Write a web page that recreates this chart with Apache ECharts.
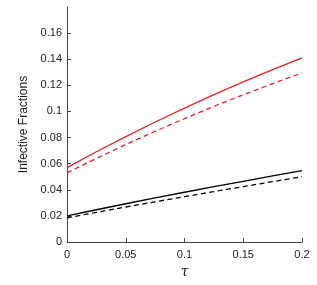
<!DOCTYPE html>
<html><head><meta charset="utf-8">
<script src="https://cdn.jsdelivr.net/npm/echarts@6/dist/echarts.min.js"></script>
<style>html,body{margin:0;padding:0;background:#fff}#c{width:317px;height:285px}</style>
</head><body><div id="c"></div>
<script>
const tau = [0, 0.025, 0.05, 0.075, 0.1, 0.125, 0.15, 0.175, 0.2];
const redSolid = [0.057, 0.0691, 0.0807, 0.0919, 0.1026, 0.1129, 0.1227, 0.132, 0.141];
const redDashed = [0.053, 0.064, 0.0746, 0.0848, 0.0945, 0.1039, 0.1128, 0.1213, 0.1295];
const blackSolid = [0.02, 0.0247, 0.0293, 0.0338, 0.0381, 0.0424, 0.0465, 0.0506, 0.0546];
const blackDashed = [0.0185, 0.0227, 0.0268, 0.0308, 0.0347, 0.0386, 0.0424, 0.0462, 0.05];
const yLabel = 'Infective Fractions';
const xLabel = 'τ';

const pairs = a => tau.map((t, i) => [t, a[i]]);
const font = 'Liberation Sans, Arial, sans-serif';
const axisColor = '#444';
const mk = (data, color, type) => ({
  type: 'line', data: pairs(data), showSymbol: false, symbol: 'none',
  lineStyle: { color, width: 1.3, type: type === 'dashed' ? [5, 3.5] : 'solid' },
  animation: false
});
const chart = echarts.init(document.getElementById('c'));
chart.setOption({
  animation: false,
  grid: { left: 67, right: 15, top: 7, bottom: 43 },
  xAxis: {
    type: 'value', min: 0, max: 0.2, interval: 0.05,
    name: xLabel, nameLocation: 'middle', nameGap: 22,
    nameTextStyle: { fontFamily: 'DejaVu Serif, serif', fontStyle: 'italic', fontSize: 14, color: '#222' },
    axisLine: { lineStyle: { color: axisColor, width: 1 } },
    axisTick: { inside: true, length: 4, lineStyle: { color: axisColor } },
    axisLabel: { fontFamily: font, fontSize: 11, color: '#222', margin: 7,
      formatter: v => String(+v.toFixed(2)) },
    splitLine: { show: false }
  },
  yAxis: {
    type: 'value', min: 0, max: 0.18, interval: 0.02,
    name: yLabel, nameLocation: 'middle', nameGap: 30, nameRotate: 90,
    nameTextStyle: { fontFamily: font, fontSize: 12, color: '#222' },
    axisLine: { show: true, lineStyle: { color: axisColor, width: 1 } },
    axisTick: { inside: true, length: 4, lineStyle: { color: axisColor } },
    axisLabel: { fontFamily: font, fontSize: 11, color: '#222', margin: 5, showMaxLabel: false,
      formatter: v => v > 0.175 ? '' : String(+v.toFixed(2)) },
    splitLine: { show: false }
  },
  series: [
    mk(redSolid, '#e8202a', 'solid'),
    mk(redDashed, '#e8202a', 'dashed'),
    mk(blackSolid, '#000', 'solid'),
    mk(blackDashed, '#000', 'dashed')
  ]
});
</script></body></html>
